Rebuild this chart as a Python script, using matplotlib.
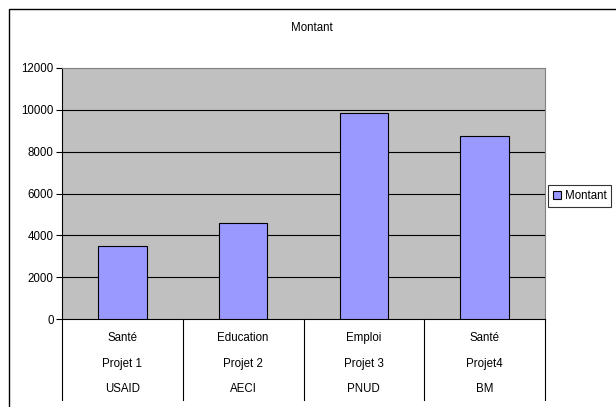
import matplotlib
matplotlib.use("Agg")
import matplotlib.pyplot as plt
from matplotlib.patches import Rectangle

plt.rcParams['font.family'] = ['Liberation Sans', 'DejaVu Sans']

domains = ["Santé", "Education", "Emploi", "Santé"]
projects = ["Projet 1", "Projet 2", "Projet 3", "Projet4"]
donors = ["USAID", "AECI", "PNUD", "BM"]
montant = [3500, 4600, 9870, 8740]
yticks = [0, 2000, 4000, 6000, 8000, 10000, 12000]
title = "Montant"
series_name = "Montant"

W, H = 616, 407
FS = 8.3
fig = plt.figure(figsize=(W / 100, H / 100), dpi=100)
fig.patch.set_facecolor("white")

def px(x0, y0, x1, y1):
    return [x0 / W, 1 - y1 / H, (x1 - x0) / W, (y1 - y0) / H]

# outer chart frame
fig.patches.append(Rectangle((9 / W, -0.05), 1.2, 1 - 9 / H + 0.05,
                             transform=fig.transFigure, fill=False,
                             edgecolor="black", linewidth=1.0))

ax = fig.add_axes(px(62, 68, 545, 319))
ax.set_facecolor("#C0C0C0")
x = list(range(len(montant)))
ax.bar(x, montant, width=0.4, color="#9999FF", edgecolor="black",
       linewidth=0.8, label=series_name, zorder=3)
ax.set_xlim(-0.5, len(montant) - 0.5)
ax.set_ylim(0, 12000)
ax.set_yticks(yticks)
ax.set_yticklabels([str(v) for v in yticks], fontsize=FS)
ax.tick_params(axis="y", direction="out", length=4, width=0.8, pad=2)
ax.set_xticks([])
for v in yticks[1:-1]:
    ax.axhline(v, color="black", linewidth=0.8, zorder=1)
for s in ["top", "right"]:
    ax.spines[s].set_color("#808080")
    ax.spines[s].set_linewidth(0.8)
ax.spines["left"].set_color("black")
ax.spines["bottom"].set_color("black")
ax.spines["left"].set_linewidth(0.8)
ax.spines["bottom"].set_linewidth(0.8)
ax.grid(False)

# category table under the axis (y in pixel units, top = 319)
tax = fig.add_axes(px(62, 319, 545, 400), sharex=ax)
tax.set_ylim(400, 319)
tax.axis("off")
for b in [i - 0.5 for i in range(len(montant) + 1)]:
    tax.plot([b, b], [319, 400], color="black", linewidth=0.8, clip_on=False)
for i in x:
    tax.text(i, 338, domains[i], ha="center", va="center", fontsize=FS)
    tax.text(i, 364, projects[i], ha="center", va="center", fontsize=FS)
    tax.text(i, 389, donors[i], ha="center", va="center", fontsize=FS)

fig.text(312 / W, 1 - 28 / H, title, ha="center", va="center", fontsize=FS)

leg = fig.legend(loc="center left", bbox_to_anchor=(548 / W, 1 - 196 / H),
                 fontsize=FS, frameon=True, fancybox=False, borderpad=0.4,
                 handlelength=0.75, handleheight=0.75, handletextpad=0.3,
                 borderaxespad=0)
leg.get_frame().set_edgecolor("black")
leg.get_frame().set_linewidth(0.8)

fig.savefig("out.png", dpi=100)
